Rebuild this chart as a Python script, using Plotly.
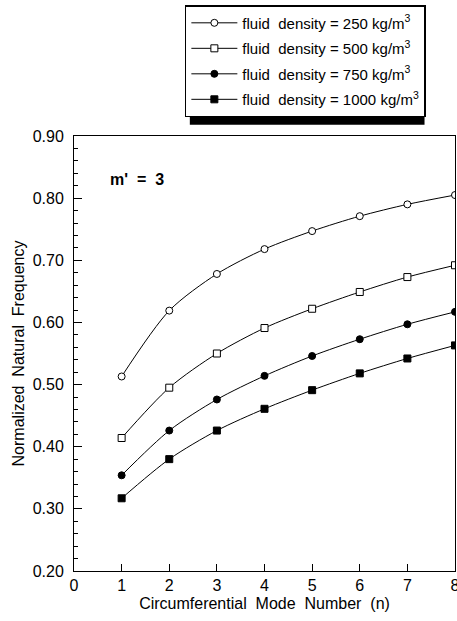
import plotly.graph_objects as go

n_modes = [1, 2, 3, 4, 5, 6, 7, 8]
freq_250 = [0.513, 0.619, 0.678, 0.718, 0.747, 0.771, 0.790, 0.805]
freq_500 = [0.414, 0.495, 0.550, 0.591, 0.622, 0.649, 0.673, 0.692]
freq_750 = [0.354, 0.426, 0.476, 0.514, 0.546, 0.573, 0.597, 0.617]
freq_1000 = [0.317, 0.380, 0.426, 0.461, 0.491, 0.518, 0.542, 0.563]
labels = ["fluid  density = 250 kg/m<sup>3</sup>",
          "fluid  density = 500 kg/m<sup>3</sup>",
          "fluid  density = 750 kg/m<sup>3</sup>",
          "fluid  density = 1000 kg/m<sup>3</sup>"]
y_ticks = [0.2, 0.3, 0.4, 0.5, 0.6, 0.7, 0.8, 0.9]
x_ticks = [0, 1, 2, 3, 4, 5, 6, 7, 8]

FONT = "Liberation Sans, Arial, sans-serif"

styles = [
    dict(symbol="circle", fill="white", size=7),
    dict(symbol="square", fill="white", size=7),
    dict(symbol="circle", fill="black", size=7),
    dict(symbol="square", fill="black", size=7),
]
series = [freq_250, freq_500, freq_750, freq_1000]

fig = go.Figure()
for i, (vals, lab, st) in enumerate(zip(series, labels, styles)):
    fig.add_trace(go.Scatter(
        x=n_modes, y=vals, mode="lines+markers", name=lab,
        legendgroup=f"g{i}",
        line=dict(color="black", width=1, shape="spline", smoothing=0.8),
        marker=dict(symbol=st["symbol"], size=st["size"], color=st["fill"],
                    line=dict(color="black", width=1)),
    ))

fig.update_layout(
    width=457, height=621,
    margin=dict(l=74, r=2, t=136, b=50),
    paper_bgcolor="white", plot_bgcolor="white",
    font=dict(family=FONT, size=15, color="black"),
    showlegend=True,
    legend=dict(
        x=0.291, y=1.301, xanchor="left", yanchor="top",
        bgcolor="white", bordercolor="black", borderwidth=1.5,
        font=dict(family=FONT, size=15, color="black"),
        tracegroupgap=3, itemwidth=46,
    ),
    xaxis=dict(
        range=[0, 8], tickvals=x_ticks, ticktext=[str(v) for v in x_ticks],
        ticks="inside", ticklen=7, tickcolor="black",
        ticklabeloverflow="allow", automargin=False,
        showline=True, linecolor="black", linewidth=1, mirror=True,
        showgrid=False, zeroline=False,
        tickfont=dict(family=FONT, size=16),
        title=dict(text="Circumferential  Mode  Number  (n)", font=dict(family=FONT, size=16), standoff=4),
    ),
    yaxis=dict(
        range=[0.2, 0.9], tickvals=y_ticks, ticktext=[f"{v:.2f}" for v in y_ticks],
        ticks="inside", ticklen=8, tickcolor="black",
        ticklabelstandoff=6, automargin=False,
        minor=dict(dtick=0.02, ticks="inside", ticklen=4, tickcolor="black", showgrid=False),
        showline=True, linecolor="black", linewidth=1, mirror=True,
        showgrid=False, zeroline=False,
        tickfont=dict(family=FONT, size=16),
        title=dict(text="Normalized  Natural  Frequency", font=dict(family=FONT, size=16), standoff=4),
    ),
    annotations=[dict(
        x=0.089, y=0.899, xref="paper", yref="paper", xanchor="left", yanchor="middle",
        text="<b>m'  =  3</b>", showarrow=False, font=dict(family=FONT, size=16, color="black"),
    )],
    shapes=[dict(
        type="rect", xref="paper", yref="paper", layer="below",
        x0=0.304, x1=0.920, y0=1.026, y1=1.29,
        fillcolor="black", line=dict(width=0),
    )],
)

fig.write_html("out.html")
